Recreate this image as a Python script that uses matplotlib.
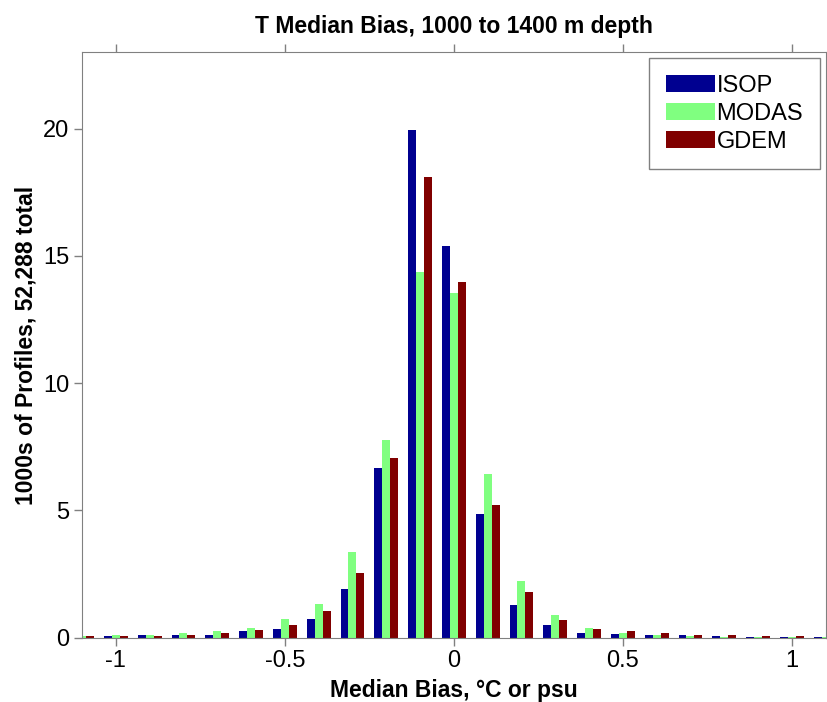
import numpy as np
import matplotlib.pyplot as plt

plt.rcParams['font.family'] = ['Liberation Sans', 'DejaVu Sans']

# центры бинов
bins = np.round(np.arange(-11, 12) * 0.1, 2)

isop = [0.02, 0.08, 0.12, 0.12, 0.12, 0.26, 0.35, 0.75, 1.9, 6.68, 19.94, 15.37,
        4.84, 1.3, 0.5, 0.2, 0.15, 0.09, 0.09, 0.05, 0.04, 0.04, 0.04]
modas = [0.05, 0.09, 0.1, 0.17, 0.25, 0.38, 0.72, 1.33, 3.36, 7.78, 14.38, 13.53,
         6.43, 2.24, 0.9, 0.4, 0.18, 0.12, 0.07, 0.04, 0.03, 0.03, 0.03]
gdem = [0.05, 0.08, 0.08, 0.12, 0.18, 0.29, 0.5, 1.03, 2.53, 7.05, 18.1, 13.99,
        5.23, 1.8, 0.7, 0.36, 0.26, 0.18, 0.12, 0.09, 0.05, 0.05, 0.05]

names = ['ISOP', 'MODAS', 'GDEM']
colors = ['#000090', '#80ff80', '#800000']

fig = plt.figure(figsize=(8.27, 7.02), dpi=100)
ax = fig.add_axes([0.0992, 0.0916, 0.8992, 0.834])

w = 0.0235
for k, (vals, name, col) in enumerate(zip([isop, modas, gdem], names, colors)):
    ax.bar(bins + (k - 1) * w, vals, width=w, color=col, label=name, edgecolor='none')

ax.set_xlim(-1.1, 1.1)
ax.set_ylim(0, 23)
ax.set_xticks([-1, -0.5, 0, 0.5, 1])
ax.set_xticklabels(['-1', '-0.5', '0', '0.5', '1'])
ax.set_yticks([0, 5, 10, 15, 20])
ax.tick_params(direction='out', top=True, right=True, length=6, color='#808080',
               labelsize=17, width=1, pad=3)
for s in ax.spines.values():
    s.set_color('#808080')

ax.set_title('T Median Bias, 1000 to 1400 m depth', fontsize=16.5, fontweight='bold', pad=14)
ax.set_xlabel('Median Bias, \u00b0C or psu', fontsize=16.5, fontweight='bold', labelpad=5)
ax.set_ylabel('1000s of Profiles, 52,288 total', fontsize=16.5, fontweight='bold', labelpad=4)

leg = ax.legend(loc='upper right', fontsize=17, handlelength=2.1, handleheight=0.72,
                fancybox=False, edgecolor='#808080', framealpha=1,
                borderaxespad=0.25, labelspacing=0.26, handletextpad=0.05, borderpad=0.7)
leg.get_frame().set_linewidth(1)

plt.savefig('out.png', dpi=100)
